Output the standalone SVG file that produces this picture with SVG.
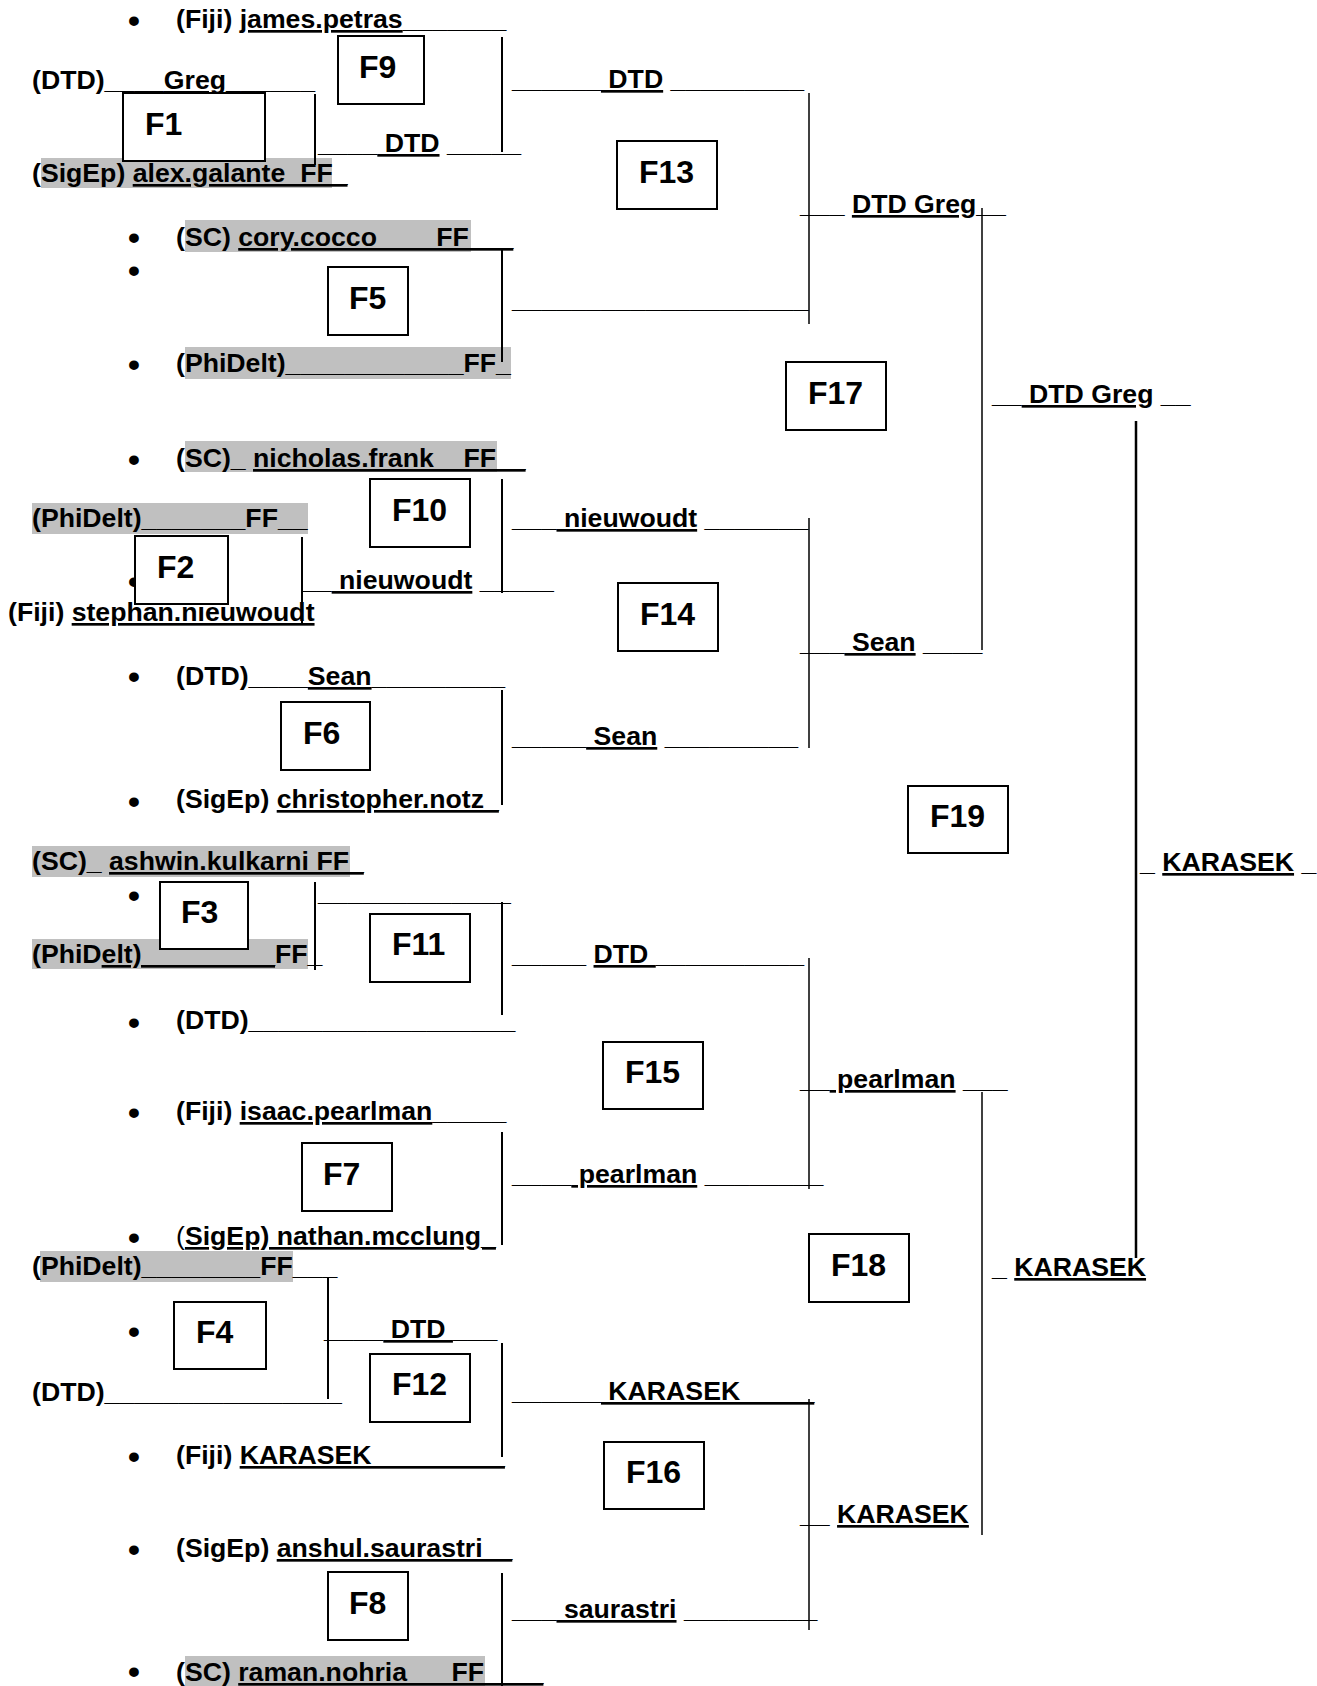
<svg xmlns="http://www.w3.org/2000/svg" width="1317" height="1686" viewBox="0 0 1317 1686" xml:space="preserve">
<style>
text{font-family:"Liberation Sans",Arial,sans-serif;font-weight:bold;font-size:26.67px;fill:#000}
.u{text-decoration:underline;text-decoration-skip-ink:none}
.hl{fill:#c0c0c0}
.bx{fill:#fff;stroke:#000;stroke-width:2}
.lb{font-size:32px}
.bu{font-size:34px;text-anchor:middle}
.c{stroke:#000;stroke-width:2;fill:none}
.c1{stroke:#000;stroke-width:1.5;fill:none}
.n{font-weight:normal}
</style>
<rect width="1317" height="1686" fill="#fff"/>
<g id="highlights">
<rect class="hl" x="41" y="158" width="291" height="30"/>
<rect class="hl" x="185" y="220" width="286" height="32"/>
<rect class="hl" x="185" y="347" width="326" height="32"/>
<rect class="hl" x="185" y="441" width="312" height="31"/>
<rect class="hl" x="32" y="503" width="276" height="31"/>
<rect class="hl" x="32" y="846" width="318" height="31"/>
<rect class="hl" x="32" y="939" width="276" height="30"/>
<rect class="hl" x="40" y="1251" width="253" height="31"/>
<rect class="hl" x="185" y="1656" width="300" height="32"/>
</g>
<g id="bullets">
<text class="bu" x="134" y="32">•</text>
<text class="bu" x="134" y="249">•</text>
<text class="bu" x="134" y="282">•</text>
<text class="bu" x="134" y="376">•</text>
<text class="bu" x="134" y="471">•</text>
<text class="bu" x="134" y="593">•</text>
<text class="bu" x="134" y="688">•</text>
<text class="bu" x="134" y="813">•</text>
<text class="bu" x="134" y="907">•</text>
<text class="bu" x="134" y="1034">•</text>
<text class="bu" x="134" y="1124">•</text>
<text class="bu" x="134" y="1249">•</text>
<text class="bu" x="134" y="1343">•</text>
<text class="bu" x="134" y="1468">•</text>
<text class="bu" x="134" y="1561">•</text>
<text class="bu" x="134" y="1683">•</text>
</g>
<g id="entries">
<g id="e-petras"><text x="176" y="28">(Fiji) <tspan class="u">james.petras</tspan>_______</text></g>
<g id="e-greg"><text x="32" y="89">(DTD)____<tspan class="u">Greg</tspan>______</text></g>
<g id="e-galante"><text x="32" y="182">(SigEp) <tspan class="u">alex.galante_FF_</tspan></text></g>
<g id="w-f1"><text x="318" y="152">____<tspan class="u"> DTD</tspan> _____</text></g>
<g id="e-cocco"><text x="176" y="246">(SC) <tspan class="u">cory.cocco____FF___</tspan></text></g>
<g id="w-f5"><text x="512" y="307.5">____________________</text></g>
<g id="e-phidelt1"><text x="176" y="372">(PhiDelt)____________FF_</text></g>
<g id="w-f9"><text x="512" y="88">______<tspan class="u"> DTD</tspan> _________</text></g>
<g id="w-f13"><text x="800" y="213">___ <tspan class="u">DTD Greg</tspan>__</text></g>
<g id="w-f17"><text x="992" y="403">__<tspan class="u"> DTD Greg</tspan> __</text></g>
<g id="e-frank"><text x="176" y="467">(SC)_ <tspan class="u">nicholas.frank__FF__</tspan></text></g>
<g id="e-phidelt2"><text x="32" y="527">(PhiDelt)_______FF__</text></g>
<g id="w-f2"><text x="302" y="589">__<tspan class="u"> nieuwoudt</tspan> _____</text></g>
<g id="e-nieuwoudt"><text x="8" y="621">(Fiji) <tspan class="u">stephan.nieuwoudt</tspan></text></g>
<g id="w-f10"><text x="512" y="527">___<tspan class="u"> nieuwoudt</tspan> _______</text></g>
<g id="e-sean"><text x="176" y="685">(DTD)____<tspan class="u">Sean</tspan>_________</text></g>
<g id="w-f14"><text x="800" y="651">___<tspan class="u"> Sean</tspan> ____</text></g>
<g id="w-f6"><text x="512" y="745">_____<tspan class="u"> Sean</tspan> _________</text></g>
<g id="e-notz"><text x="176" y="808">(SigEp) <tspan class="u">christopher.notz_</tspan></text></g>
<g id="w-f19"><text x="1140" y="871">_ <tspan class="u">KARASEK</tspan> _</text></g>
<g id="e-kulkarni"><text x="32" y="870">(SC)_ <tspan class="u">ashwin.kulkarni FF_</tspan></text></g>
<g id="e-phidelt3"><text x="32" y="963">(PhiD<tspan class="u">elt)_________</tspan>FF_</text></g>
<g id="w-f3"><text x="318" y="900.5">_____________</text></g>
<g id="w-f11"><text x="512" y="963">_____ <tspan class="u">DTD </tspan>__________</text></g>
<g id="e-dtd1"><text x="176" y="1029">(DTD)__________________</text></g>
<g id="e-pearlman"><text x="176" y="1120">(Fiji) <tspan class="u">isaac.pearlman</tspan>_____</text></g>
<g id="w-f15"><text x="800" y="1088">__<tspan class="u"> pearlman</tspan> ___</text></g>
<g id="w-f7"><text x="512" y="1183">____<tspan class="u"> pearlman</tspan> ________</text></g>
<g id="e-mcclung"><text x="176" y="1245"><tspan class="n">(</tspan><tspan class="u">SigEp) nathan.mcclung_</tspan></text></g>
<g id="e-phidelt4"><text x="32" y="1275">(PhiDelt)________FF___</text></g>
<g id="w-f18"><text x="992" y="1276">_ <tspan class="u">KARASEK</tspan></text></g>
<g id="w-f4"><text x="324" y="1338">____<tspan class="u"> DTD </tspan>___</text></g>
<g id="e-dtd2"><text x="32" y="1401">(DTD)________________</text></g>
<g id="w-f12"><text x="512" y="1400">______<tspan class="u"> KARASEK_____</tspan></text></g>
<g id="e-karasek"><text x="176" y="1464">(Fiji) <tspan class="u">KARASEK_________</tspan></text></g>
<g id="w-f16"><text x="800" y="1523">__ <tspan class="u">KARASEK</tspan></text></g>
<g id="e-saurastri"><text x="176" y="1557">(SigEp) <tspan class="u">anshul.saurastri__</tspan></text></g>
<g id="w-f8"><text x="512" y="1618">___<tspan class="u"> saurastri</tspan> _________</text></g>
<g id="e-nohria"><text x="176" y="1681">(SC) <tspan class="u">raman.nohria___FF____</tspan></text></g>
</g>
<g id="connectors">
<line class="c" x1="315" y1="94" x2="315" y2="165"/>
<line class="c" x1="502" y1="37" x2="502" y2="152"/>
<line class="c" x1="502" y1="248" x2="502" y2="362"/>
<line class="c1" x1="809" y1="93" x2="809" y2="324"/>
<line class="c1" x1="982" y1="208" x2="982" y2="650"/>
<line class="c" x1="502" y1="479" x2="502" y2="593"/>
<line class="c" x1="302" y1="537" x2="302" y2="625"/>
<line class="c" x1="502" y1="690" x2="502" y2="805"/>
<line class="c1" x1="809" y1="518" x2="809" y2="748"/>
<line class="c" x1="315" y1="882" x2="315" y2="970"/>
<line class="c" x1="502" y1="902" x2="502" y2="1015"/>
<line class="c1" x1="809" y1="958" x2="809" y2="1189"/>
<line class="c" x1="502" y1="1132" x2="502" y2="1245"/>
<line class="c1" x1="982" y1="1092" x2="982" y2="1535"/>
<line class="c" x1="328" y1="1278" x2="328" y2="1399"/>
<line class="c" x1="502" y1="1343" x2="502" y2="1457"/>
<line class="c1" x1="809" y1="1399" x2="809" y2="1630"/>
<line class="c" x1="502" y1="1573" x2="502" y2="1686"/>
<line class="c" x1="1136" y1="421" x2="1136" y2="1258" style="stroke-width:2.5"/>
</g>
<g id="F1"><rect class="bx" x="123" y="93" width="142" height="68"/><text class="lb" x="145" y="135">F1</text></g>
<g id="F9"><rect class="bx" x="338" y="36" width="86" height="68"/><text class="lb" x="359" y="78">F9</text></g>
<g id="F5"><rect class="bx" x="328" y="267" width="80" height="68"/><text class="lb" x="349" y="309">F5</text></g>
<g id="F13"><rect class="bx" x="617" y="141" width="100" height="68"/><text class="lb" x="639" y="183">F13</text></g>
<g id="F17"><rect class="bx" x="786" y="362" width="100" height="68"/><text class="lb" x="808" y="404">F17</text></g>
<g id="F10"><rect class="bx" x="370" y="479" width="100" height="68"/><text class="lb" x="392" y="521">F10</text></g>
<g id="F2"><rect class="bx" x="135" y="536" width="93" height="68"/><text class="lb" x="157" y="578">F2</text></g>
<g id="F14"><rect class="bx" x="618" y="583" width="100" height="68"/><text class="lb" x="640" y="625">F14</text></g>
<g id="F6"><rect class="bx" x="281" y="702" width="89" height="68"/><text class="lb" x="303" y="744">F6</text></g>
<g id="F19"><rect class="bx" x="908" y="786" width="100" height="67"/><text class="lb" x="930" y="827">F19</text></g>
<g id="F3"><rect class="bx" x="160" y="882" width="88" height="67"/><text class="lb" x="181" y="923">F3</text></g>
<g id="F11"><rect class="bx" x="370" y="914" width="100" height="68"/><text class="lb" x="392" y="955">F11</text></g>
<g id="F15"><rect class="bx" x="603" y="1042" width="100" height="67"/><text class="lb" x="625" y="1083">F15</text></g>
<g id="F7"><rect class="bx" x="302" y="1143" width="90" height="68"/><text class="lb" x="323" y="1185">F7</text></g>
<g id="F18"><rect class="bx" x="809" y="1234" width="100" height="68"/><text class="lb" x="831" y="1276">F18</text></g>
<g id="F4"><rect class="bx" x="174" y="1302" width="92" height="67"/><text class="lb" x="196" y="1343">F4</text></g>
<g id="F12"><rect class="bx" x="370" y="1354" width="100" height="68"/><text class="lb" x="392" y="1395">F12</text></g>
<g id="F16"><rect class="bx" x="604" y="1442" width="100" height="67"/><text class="lb" x="626" y="1483">F16</text></g>
<g id="F8"><rect class="bx" x="328" y="1572" width="80" height="68"/><text class="lb" x="349" y="1614">F8</text></g>
</svg>
